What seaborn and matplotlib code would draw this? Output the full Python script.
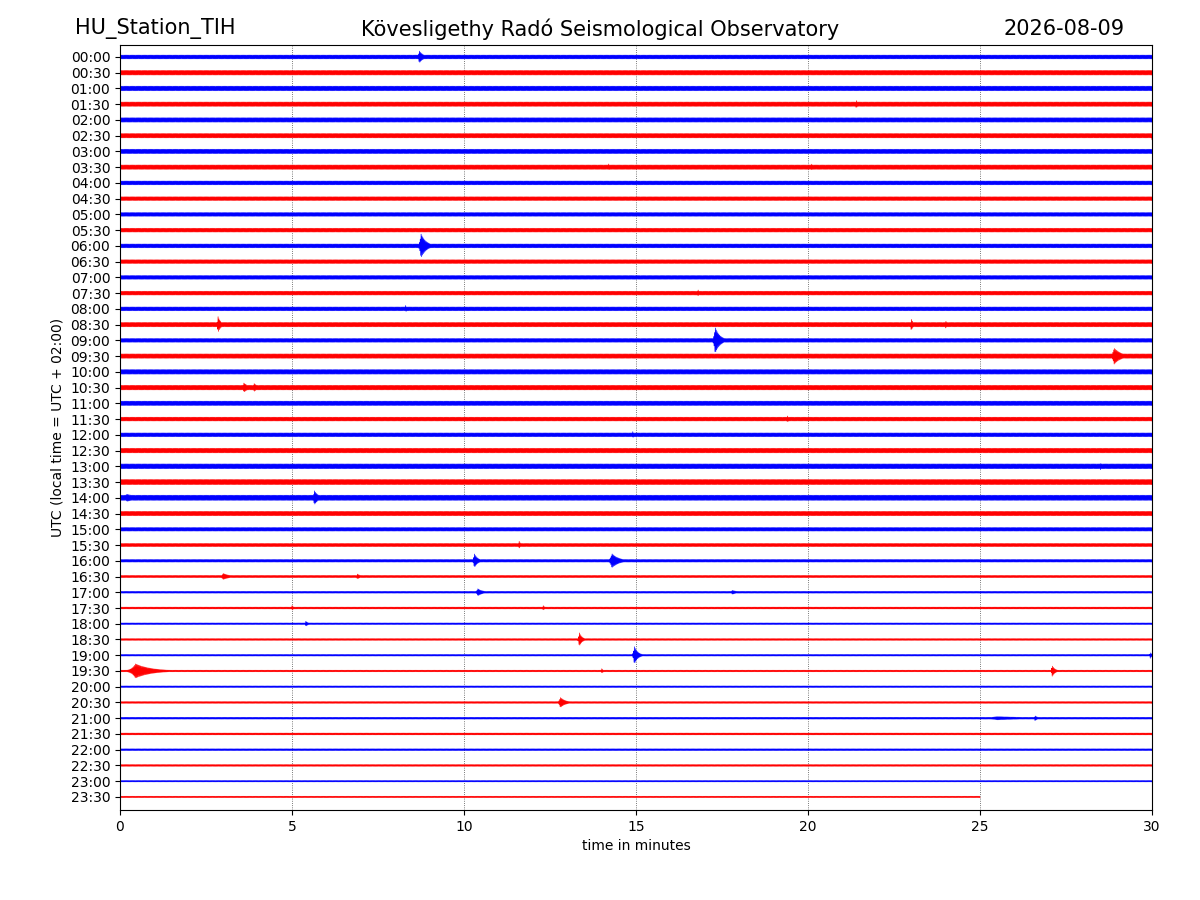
import numpy as np
import pandas as pd
import matplotlib
matplotlib.use('Agg')
import matplotlib.pyplot as plt
import seaborn as sns

# row labels, one trace per half hour
row_labels = ['%02d:%02d' % (h, m) for h in range(24) for m in (0, 30)]

# background noise half-width of each trace (pixels at 100 dpi)
noise_px = [1.9, 2.3, 2.3, 2.2, 2.2, 2.2, 2.2, 2.2, 1.9, 1.9,
            1.9, 1.9, 1.9, 1.9, 1.9, 1.9, 1.9, 2.2, 1.9, 2.2,
            2.3, 2.3, 2.2, 1.9, 1.9, 2.3, 2.4, 2.6, 2.6, 2.2,
            1.8, 1.6, 1.3, 1.1, 0.9, 0.9, 0.8, 0.9, 0.8, 0.8,
            0.8, 0.9, 0.9, 0.9, 0.9, 0.9, 0.7, 0.7]

# minute where each trace stops (last one is cut off)
trace_end = [30] * 47 + [25]

# events: row label, minute, half-height (px), decay (min)
event_row = ['00:00', '01:30', '02:30', '03:30', '03:30', '06:00', '07:30', '08:00',
             '08:30', '08:30', '08:30', '09:00', '09:30', '10:30', '10:30', '11:30',
             '12:00', '13:00', '14:00', '14:00', '15:30', '16:00', '16:00', '16:30',
             '16:30', '17:00', '17:00', '17:30', '17:30', '18:00', '18:30', '19:00',
             '19:00', '19:30', '19:30', '19:30', '20:30', '21:00', '21:00']
event_min = [8.7, 21.4, 30.0, 14.2, 20.1, 8.75, 16.8, 8.3,
             2.85, 23.0, 24.0, 17.3, 28.9, 3.6, 3.9, 19.4,
             14.9, 28.5, 0.2, 5.65, 11.6, 10.3, 14.3, 3.0,
             6.9, 10.4, 17.8, 5.0, 12.3, 5.4, 13.35, 14.95,
             29.95, 0.45, 14.0, 27.1, 12.8, 25.5, 26.6]
event_amp = [6, 4, 4, 3.5, 3.5, 12, 3.5, 3.5,
             8, 6, 4, 13, 8, 4.5, 4, 3.5,
             3.5, 3.5, 3.5, 7, 4, 7, 7, 3,
             2.5, 3.5, 2, 2.5, 2.5, 2.5, 7, 9,
             3, 7, 2.5, 5.5, 5, 1.6, 2.5]
event_decay = [0.12, 0.06, 0.05, 0.05, 0.05, 0.15, 0.05, 0.05,
               0.08, 0.06, 0.05, 0.14, 0.2, 0.15, 0.12, 0.05,
               0.05, 0.05, 0.4, 0.12, 0.05, 0.1, 0.2, 0.2,
               0.1, 0.15, 0.15, 0.05, 0.05, 0.08, 0.08, 0.1,
               0.05, 0.45, 0.05, 0.08, 0.15, 1.2, 0.08]

px_per_row = 15.74
n_samples = 2400

frames = []
for i, lab in enumerate(row_labels):
    t = np.linspace(0, trace_end[i], int(n_samples * trace_end[i] / 30))
    env = np.full_like(t, noise_px[i])
    for r, m, a, d in zip(event_row, event_min, event_amp, event_decay):
        if r != lab:
            continue
        before = np.exp(-np.abs(t - m) / (0.25 * d))
        after = np.exp(-(t - m) / d)
        env = np.maximum(env, a * np.where(t < m, before, after))
    wiggle = env * (-1.0) ** np.arange(len(t)) / px_per_row
    frames.append(pd.DataFrame({'minute': t, 'y': -i + wiggle, 'row': i,
                                'parity': 'even' if i % 2 == 0 else 'odd'}))
df = pd.concat(frames, ignore_index=True)

fig, ax = plt.subplots(figsize=(12, 9), dpi=100)
fig.subplots_adjust(left=0.1, right=0.96, bottom=0.1, top=0.95)

sns.lineplot(data=df, x='minute', y='y', units='row', hue='parity',
             palette={'even': 'blue', 'odd': 'red'}, estimator=None,
             sort=False, linewidth=0.5, legend=False, ax=ax)

for m in [5, 10, 15, 20, 25]:
    ax.axvline(m, color='black', linestyle=':', linewidth=0.6, alpha=0.7, zorder=0)

ax.set_xlim(0, 30)
ax.set_ylim(-47.83, 0.76)
ax.set_yticks([-i for i in range(len(row_labels))])
ax.set_yticklabels(row_labels)
ax.set_xticks([0, 5, 10, 15, 20, 25, 30])
ax.set_xlabel('time in minutes')
ax.set_ylabel('UTC (local time = UTC + 02:00)')

fig.text(0.0625, 0.968, 'HU_Station_TIH', fontsize=15, ha='left', va='center')
fig.text(0.5, 0.968, 'Kövesligethy Radó Seismological Observatory', fontsize=15,
         ha='center', va='center')
fig.text(0.9375, 0.968, '2026-08-09', fontsize=15, ha='right', va='center')

plt.savefig('out.png')
